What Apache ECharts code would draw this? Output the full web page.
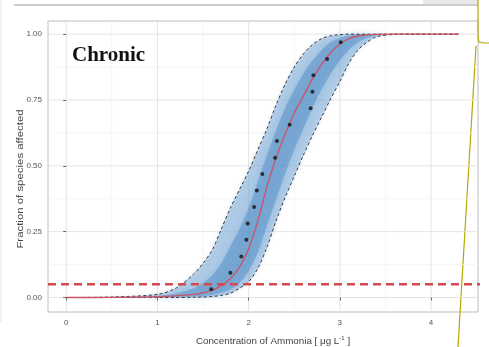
<!DOCTYPE html>
<html>
<head>
<meta charset="utf-8">
<script src="https://cdn.jsdelivr.net/npm/echarts@6/dist/echarts.min.js"></script>
<style>
  html, body { margin: 0; padding: 0; background: #fff; }
  #chart { width: 489px; height: 347px; }
</style>
</head>
<body>
<div id="chart"></div>
<script>
// x grid used for the fitted curves (concentration)
const curveX = [0, 0.5, 1.0, 1.2, 1.4, 1.5, 1.6, 1.7, 1.8, 1.9, 2.0, 2.1, 2.2, 2.3, 2.4, 2.5, 2.6, 2.7, 2.8, 2.9, 3.0, 3.1, 3.2, 3.3, 3.4, 3.6, 3.8, 4.0, 4.3];
// median fit (red)
const medianY = [0, 0.0005, 0.003, 0.006, 0.012, 0.018, 0.028, 0.045, 0.072, 0.115, 0.185, 0.29, 0.42, 0.53, 0.62, 0.70, 0.765, 0.83, 0.885, 0.93, 0.963, 0.983, 0.993, 0.997, 0.999, 1, 1, 1, 1];
// dashed bounds
const upperY = [0, 0.002, 0.012, 0.035, 0.09, 0.13, 0.18, 0.26, 0.34, 0.41, 0.48, 0.56, 0.64, 0.73, 0.81, 0.875, 0.925, 0.96, 0.983, 0.994, 0.998, 1, 1, 1, 1, 1, 1, 1, 1];
const lowerY = [0, 0, 0, 0, 0.001, 0.002, 0.004, 0.008, 0.016, 0.035, 0.06, 0.11, 0.19, 0.29, 0.38, 0.46, 0.54, 0.615, 0.685, 0.755, 0.82, 0.89, 0.94, 0.97, 0.99, 0.999, 1, 1, 1];
// denser core of the bootstrap curves
const coreHiY = [0, 0.001, 0.006, 0.015, 0.035, 0.055, 0.085, 0.13, 0.195, 0.26, 0.34, 0.44, 0.54, 0.635, 0.72, 0.79, 0.85, 0.90, 0.94, 0.97, 0.985, 0.995, 1, 1, 1, 1, 1, 1, 1];
const coreLoY = [0, 0, 0.001, 0.002, 0.004, 0.006, 0.01, 0.018, 0.03, 0.055, 0.10, 0.17, 0.27, 0.37, 0.47, 0.56, 0.64, 0.72, 0.79, 0.85, 0.90, 0.94, 0.97, 0.985, 0.995, 1, 1, 1, 1];
// species toxicity points
const speciesX = [1.59, 1.80, 1.92, 1.975, 1.99, 2.06, 2.09, 2.15, 2.29, 2.31, 2.45, 2.68, 2.70, 2.71, 2.86, 3.01];
const speciesY = [0.031, 0.094, 0.156, 0.219, 0.281, 0.344, 0.406, 0.469, 0.531, 0.594, 0.656, 0.719, 0.781, 0.844, 0.906, 0.969];
// HC5 threshold
const hcLevel = 0.05;
const xTicks = [0, 1, 2, 3, 4];
const xMinor = [0.5, 1.5, 2.5, 3.5];
const yTicks = [0, 0.25, 0.5, 0.75, 1];
const yMinor = [0.125, 0.375, 0.625, 0.875];

const X_MIN = -0.2, X_MAX = 4.515, Y_MIN = -0.055, Y_MAX = 1.05;

const chart = echarts.init(document.getElementById('chart'));

function pairs(xs, ys) {
  return xs.map((x, i) => [x, ys[i]]);
}

function bandSeries(hi, lo, color, blur, z) {
  return {
    type: 'custom',
    z: z,
    silent: true,
    data: [[0]],
    renderItem: function (params, api) {
      const pts = [];
      for (let i = 0; i < curveX.length; i++) pts.push(api.coord([curveX[i], hi[i]]));
      for (let i = curveX.length - 1; i >= 0; i--) pts.push(api.coord([curveX[i], lo[i]]));
      return {
        type: 'polygon',
        shape: { points: pts, smooth: 0.25 },
        style: { fill: color, stroke: null, shadowBlur: blur, shadowColor: color }
      };
    }
  };
}

// panel grid lines (major + minor) drawn under everything
function gridSeries() {
  return {
    type: 'custom',
    z: 0,
    silent: true,
    data: [[0]],
    renderItem: function (params, api) {
      const kids = [];
      function vline(v, color, w) {
        const a = api.coord([v, Y_MIN]), b = api.coord([v, Y_MAX]);
        kids.push({ type: 'line', shape: { x1: a[0], y1: a[1], x2: b[0], y2: b[1] }, style: { stroke: color, lineWidth: w } });
      }
      function hline(v, color, w) {
        const a = api.coord([X_MIN, v]), b = api.coord([X_MAX, v]);
        kids.push({ type: 'line', shape: { x1: a[0], y1: a[1], x2: b[0], y2: b[1] }, style: { stroke: color, lineWidth: w } });
      }
      xMinor.forEach(v => vline(v, '#f3f3f3', 0.8));
      yMinor.forEach(v => hline(v, '#f3f3f3', 0.8));
      xTicks.forEach(v => vline(v, '#e4e4e4', 1));
      yTicks.forEach(v => hline(v, '#e4e4e4', 1));
      return { type: 'group', children: kids };
    }
  };
}

const labelFont = { fontFamily: 'Liberation Sans, Arial, sans-serif', fontSize: 8, color: '#555' };

chart.setOption({
  animation: false,
  backgroundColor: '#fff',
  grid: { left: 48, top: 21, width: 430, height: 291, show: true, borderColor: '#bdbdbd', borderWidth: 1, backgroundColor: '#fff' },
  xAxis: {
    type: 'value', min: X_MIN, max: X_MAX,
    axisLine: { show: false },
    splitLine: { show: false },
    axisTick: { show: true, length: 3, lineStyle: { color: '#666' }, customValues: xTicks },
    axisLabel: Object.assign({ margin: 7, customValues: xTicks, formatter: v => String(v) }, labelFont)
  },
  yAxis: {
    type: 'value', min: Y_MIN, max: Y_MAX,
    axisLine: { show: false },
    splitLine: { show: false },
    axisTick: { show: true, length: 3, lineStyle: { color: '#666' }, customValues: yTicks },
    axisLabel: Object.assign({ margin: 6, customValues: yTicks, formatter: v => v.toFixed(2) }, labelFont)
  },
  series: [
    gridSeries(),
    bandSeries(upperY, lowerY, 'rgba(125,172,215,0.5)', 4, 1),
    bandSeries(coreHiY, coreLoY, 'rgba(75,135,195,0.45)', 8, 2),
    {
      type: 'line', data: pairs(curveX, upperY), smooth: 0.3, showSymbol: false, z: 4,
      lineStyle: { color: '#3a3a3a', width: 1, type: [3, 2.5] }
    },
    {
      type: 'line', data: pairs(curveX, lowerY), smooth: 0.3, showSymbol: false, z: 4,
      lineStyle: { color: '#3a3a3a', width: 1, type: [3, 2.5] }
    },
    {
      type: 'line', data: pairs(curveX, medianY), smooth: 0.3, showSymbol: false, z: 5,
      lineStyle: { color: '#cc5266', width: 1.3 }
    },
    {
      type: 'scatter', data: pairs(speciesX, speciesY), symbolSize: 4, z: 6,
      itemStyle: { color: '#111' }
    },
    {
      type: 'line', data: [[X_MIN, hcLevel], [4.66, hcLevel]], clip: false, showSymbol: false, z: 7,
      lineStyle: { color: '#d4484f', width: 2.5, type: [8, 5] }
    }
  ],
  graphic: [
    { type: 'text', left: 72, top: 45, style: { text: 'Chronic', fontFamily: 'Liberation Serif, Times New Roman, serif', fontWeight: 'bold', fontSize: 21, fill: '#111' } },
    { type: 'text', x: 273, y: 341, style: { text: 'Concentration of Ammonia [ μg L{s|-1} ]', align: 'center', verticalAlign: 'middle', fontFamily: 'Liberation Sans, Arial, sans-serif', fontSize: 9.8, fill: '#444', rich: { s: { fontSize: 6, verticalAlign: 'top', padding: [0, 0, 6, 0], fill: '#444' } } } },
    { type: 'text', x: 20, y: 179, rotation: Math.PI / 2, scaleX: 1.2, style: { text: 'Fraction of species affected', align: 'center', verticalAlign: 'middle', fontFamily: 'Liberation Sans, Arial, sans-serif', fontSize: 9.5, fill: '#444' } },
    { type: 'line', shape: { x1: 14, y1: 5, x2: 478, y2: 5 }, style: { stroke: '#bdbdbd', lineWidth: 1.5 } },
    { type: 'rect', shape: { x: 423, y: 0, width: 55, height: 4 }, style: { fill: '#e8e8e8' } },
    { type: 'line', shape: { x1: 1, y1: 0, x2: 1, y2: 322 }, style: { stroke: '#e4e4e4', lineWidth: 1 } },
    { type: 'polyline', shape: { points: [[478, 0], [478, 37], [479, 42], [484, 43], [489, 43]] }, style: { stroke: '#b6a800', lineWidth: 1.2, fill: null } },
    { type: 'line', shape: { x1: 476, y1: 46, x2: 458, y2: 347 }, style: { stroke: '#b6a800', lineWidth: 1.2 } }
  ]
});
</script>
</body>
</html>
